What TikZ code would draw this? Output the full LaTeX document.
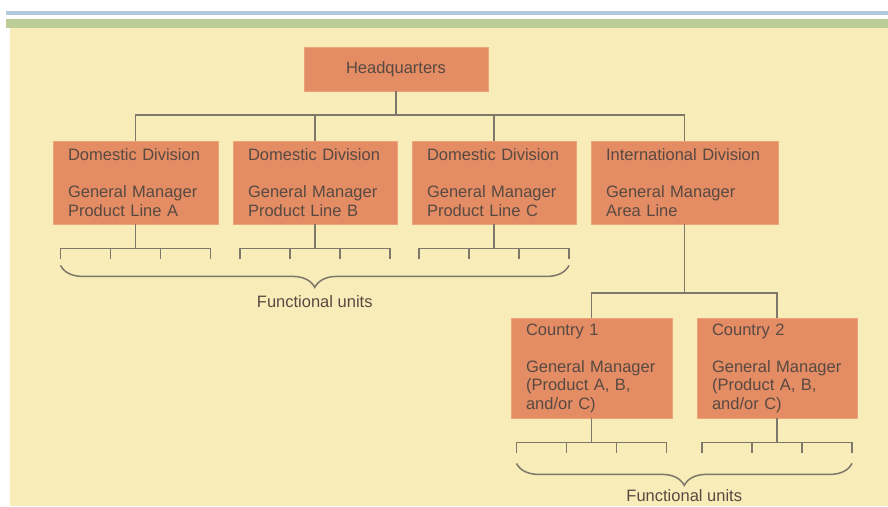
\documentclass[tikz,border=0pt]{standalone}
\usepackage{fontspec}
\setmainfont{Liberation Sans}
\usepackage{xcolor}
\usetikzlibrary{positioning,calc,decorations.pathreplacing}

\definecolor{paper}{RGB}{248,236,184}
\definecolor{stripeblue}{RGB}{178,202,218}
\definecolor{stripegreen}{RGB}{188,205,152}
\definecolor{unitfill}{RGB}{228,140,100}
\definecolor{unitedge}{RGB}{238,162,120}
\definecolor{ink}{RGB}{88,74,66}
\definecolor{wire}{RGB}{125,120,106}

\begin{document}
\begin{tikzpicture}[
    x=1pt, y=-1pt,
    unit/.style={
        rectangle,
        fill=unitfill,
        draw=unitedge,
        line width=0.8pt,
        text=ink,
        inner xsep=15pt,
        inner ysep=0pt,
        align=left,
        font=\fontsize{16.5}{18.5}\selectfont
    },
    link/.style={
        draw=wire,
        line width=1.5pt
    },
    braced/.style={
        link,
        decorate,
        decoration={brace, mirror, amplitude=22pt}
    },
    lbl/.style={
        text=ink,
        anchor=base,
        inner sep=0pt,
        font=\fontsize{16.5}{18.5}\selectfont
    }
]

% ---------------- BACKGROUND ----------------
\clip (0,0) rectangle (888,506);
\fill[white] (0,0) rectangle (888,506);
\fill[stripeblue] (6,11) rectangle (888,15);
\fill[stripegreen] (6,19) rectangle (888,28);
\fill[paper] (10,28) rectangle (888,506);

% ---------------- HEADQUARTERS ----------------
\node[unit, align=center, minimum width=184pt, minimum height=44pt] (hq)
    at (396,69) {Headquarters};

% ---------------- DIVISIONS ----------------
\node[unit, text width=135pt, minimum height=83pt] (dom1) at (135.5,182.5) {
    Domestic Division\\[18.5pt]
    General Manager\\
    Product Line A
};
\node[unit, text width=134pt, minimum height=83pt] (dom2) at (315,182.5) {
    Domestic Division\\[18.5pt]
    General Manager\\
    Product Line B
};
\node[unit, text width=134pt, minimum height=83pt] (dom3) at (494,182.5) {
    Domestic Division\\[18.5pt]
    General Manager\\
    Product Line C
};
\node[unit, text width=157pt, minimum height=83pt] (intl) at (684.5,182.5) {
    International Division\\[18.5pt]
    General Manager\\
    Area Line
};

% ---------------- COUNTRIES ----------------
\node[unit, text width=131pt, minimum height=100pt] (c1) at (591.5,368) {
    Country 1\\[18.5pt]
    General Manager\\
    (Product A, B,\\
    and/or C)
};
\node[unit, text width=130pt, minimum height=100pt] (c2) at (777,368) {
    Country 2\\[18.5pt]
    General Manager\\
    (Product A, B,\\
    and/or C)
};

% ---------------- CONNECTORS ----------------
\coordinate (bus) at (396,115);
\draw[link] (hq.south) -- (bus);
\draw[link] (dom1.north) |- (bus) -| (intl.north);
\draw[link] (dom2.north) -- (dom2.north |- bus);
\draw[link] (dom3.north) -- (dom3.north |- bus);

\coordinate (cbus) at (684.5,293);
\draw[link] (intl.south) -- (cbus);
\draw[link] (c1.north) |- (cbus) -| (c2.north);

% ---------------- FUNCTIONAL UNITS ----------------
\foreach \n in {dom1,dom2,dom3,c1,c2} {
    \draw[link] (\n.south) -- ++(0,24);
    \draw[link] ($(\n.south)+(-75,35)$) -- ++(0,-11) -- ++(150,0) -- ++(0,11);
    \draw[link] ($(\n.south)+(-25,24)$) -- ++(0,11);
    \draw[link] ($(\n.south)+(25,24)$) -- ++(0,11);
}

\draw[braced] ($(dom1.south)+(-75,41)$) -- node[lbl, yshift=-42pt] (fu1) {Functional units}
    ($(dom3.south)+(75,41)$);
\draw[braced] ($(c1.south)+(-75,45)$) -- node[lbl, yshift=-38pt] (fu2) {Functional units}
    ($(c2.south)+(75,45)$);

\end{tikzpicture}
\end{document}
